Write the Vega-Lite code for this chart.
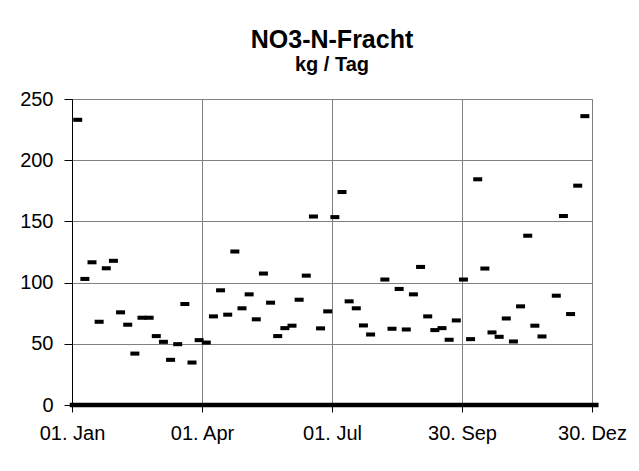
{
  "$schema": "https://vega.github.io/schema/vega-lite/v6.json",
  "width": 520,
  "height": 306,
  "autosize": {"type": "none"},
  "padding": {"left": 72, "top": 99, "right": 47, "bottom": 66},
  "background": "white",
  "title": {
    "text": "NO3-N-Fracht",
    "subtitle": "kg / Tag",
    "anchor": "middle",
    "frame": "group",
    "font": "Liberation Sans",
    "fontSize": 25,
    "fontWeight": "bold",
    "color": "black",
    "subtitleFont": "Liberation Sans",
    "subtitleFontSize": 20,
    "subtitleFontWeight": "bold",
    "subtitleColor": "black",
    "subtitlePadding": 2,
    "offset": 14
  },
  "config": {
    "view": {"stroke": "#808080", "strokeWidth": 1},
    "axis": {
      "labelFont": "Liberation Sans",
      "labelFontSize": 20,
      "labelColor": "black",
      "domainColor": "black",
      "domainWidth": 1,
      "tickColor": "black",
      "gridColor": "#808080",
      "gridWidth": 1,
      "title": null,
      "labelOverlap": false,
      "labelFlush": false
    }
  },
  "encoding": {
    "x": {
      "field": "Datum",
      "type": "temporal",
      "scale": {"domain": [{"year": 2000, "month": 1, "date": 1}, {"year": 2000, "month": 12, "date": 30}], "nice": false},
      "axis": {
        "values": [
          {"year": 2000, "month": 1, "date": 1},
          {"year": 2000, "month": 4, "date": 1},
          {"year": 2000, "month": 7, "date": 1},
          {"year": 2000, "month": 9, "date": 30},
          {"year": 2000, "month": 12, "date": 30}
        ],
        "labelExpr": "timeFormat(datum.value, '%d') + '. ' + ['Jan','Feb','Mär','Apr','Mai','Jun','Jul','Aug','Sep','Okt','Nov','Dez'][month(datum.value)]",
        "tickSize": 7,
        "labelPadding": 11,
        "grid": true
      }
    },
    "y": {
      "field": "Fracht",
      "type": "quantitative",
      "scale": {"domain": [0, 250], "nice": false, "zero": true},
      "axis": {"values": [0, 50, 100, 150, 200, 250], "tickSize": 8, "labelPadding": 11, "grid": true}
    }
  },
  "layer": [
    {
      "data": {"values": [{"Datum": "2000-01-01T00:00:00", "bis": "2001-01-02T00:00:00", "Fracht": 0}]},
      "mark": {"type": "rule", "color": "black", "strokeWidth": 4.5, "strokeCap": "square"},
      "encoding": {
        "x2": {"field": "bis"}
      }
    },
    {
      "data": {"values": [
        {"Datum": "2000-01-05T00:00:00", "Fracht": 233},
        {"Datum": "2000-01-10T00:00:00", "Fracht": 103},
        {"Datum": "2000-01-15T00:00:00", "Fracht": 116.6},
        {"Datum": "2000-01-20T00:00:00", "Fracht": 68},
        {"Datum": "2000-01-25T00:00:00", "Fracht": 111.7},
        {"Datum": "2000-01-30T00:00:00", "Fracht": 117.8},
        {"Datum": "2000-02-04T00:00:00", "Fracht": 75.7},
        {"Datum": "2000-02-09T00:00:00", "Fracht": 65.6},
        {"Datum": "2000-02-14T00:00:00", "Fracht": 42},
        {"Datum": "2000-02-19T00:00:00", "Fracht": 71.3},
        {"Datum": "2000-02-24T00:00:00", "Fracht": 71.3},
        {"Datum": "2000-02-29T00:00:00", "Fracht": 56.3},
        {"Datum": "2000-03-05T00:00:00", "Fracht": 51.6},
        {"Datum": "2000-03-10T00:00:00", "Fracht": 36.9},
        {"Datum": "2000-03-15T00:00:00", "Fracht": 49.7},
        {"Datum": "2000-03-20T00:00:00", "Fracht": 82.5},
        {"Datum": "2000-03-25T00:00:00", "Fracht": 34.7},
        {"Datum": "2000-03-30T00:00:00", "Fracht": 53},
        {"Datum": "2000-04-04T00:00:00", "Fracht": 51},
        {"Datum": "2000-04-09T00:00:00", "Fracht": 72.4},
        {"Datum": "2000-04-14T00:00:00", "Fracht": 93.7},
        {"Datum": "2000-04-19T00:00:00", "Fracht": 73.8},
        {"Datum": "2000-04-24T00:00:00", "Fracht": 125.4},
        {"Datum": "2000-04-29T00:00:00", "Fracht": 79},
        {"Datum": "2000-05-04T00:00:00", "Fracht": 90.4},
        {"Datum": "2000-05-09T00:00:00", "Fracht": 70},
        {"Datum": "2000-05-14T00:00:00", "Fracht": 107.4},
        {"Datum": "2000-05-19T00:00:00", "Fracht": 83.6},
        {"Datum": "2000-05-24T00:00:00", "Fracht": 56.3},
        {"Datum": "2000-05-29T00:00:00", "Fracht": 62.8},
        {"Datum": "2000-06-03T00:00:00", "Fracht": 64.8},
        {"Datum": "2000-06-08T00:00:00", "Fracht": 86},
        {"Datum": "2000-06-13T00:00:00", "Fracht": 105.7},
        {"Datum": "2000-06-18T00:00:00", "Fracht": 154},
        {"Datum": "2000-06-23T00:00:00", "Fracht": 62.6},
        {"Datum": "2000-06-28T00:00:00", "Fracht": 76.5},
        {"Datum": "2000-07-03T00:00:00", "Fracht": 153.5},
        {"Datum": "2000-07-08T00:00:00", "Fracht": 174},
        {"Datum": "2000-07-13T00:00:00", "Fracht": 84.7},
        {"Datum": "2000-07-18T00:00:00", "Fracht": 79},
        {"Datum": "2000-07-23T00:00:00", "Fracht": 65},
        {"Datum": "2000-07-28T00:00:00", "Fracht": 57.6},
        {"Datum": "2000-08-07T00:00:00", "Fracht": 102.5},
        {"Datum": "2000-08-12T00:00:00", "Fracht": 62.3},
        {"Datum": "2000-08-17T00:00:00", "Fracht": 94.8},
        {"Datum": "2000-08-22T00:00:00", "Fracht": 61.7},
        {"Datum": "2000-08-27T00:00:00", "Fracht": 90.4},
        {"Datum": "2000-09-01T00:00:00", "Fracht": 112.8},
        {"Datum": "2000-09-06T00:00:00", "Fracht": 72.4},
        {"Datum": "2000-09-11T00:00:00", "Fracht": 61.2},
        {"Datum": "2000-09-16T00:00:00", "Fracht": 62.8},
        {"Datum": "2000-09-21T00:00:00", "Fracht": 53.3},
        {"Datum": "2000-09-26T00:00:00", "Fracht": 69.1},
        {"Datum": "2000-10-01T00:00:00", "Fracht": 102.5},
        {"Datum": "2000-10-06T00:00:00", "Fracht": 53.8},
        {"Datum": "2000-10-11T00:00:00", "Fracht": 184.4},
        {"Datum": "2000-10-16T00:00:00", "Fracht": 111.5},
        {"Datum": "2000-10-21T00:00:00", "Fracht": 59.3},
        {"Datum": "2000-10-26T00:00:00", "Fracht": 55.7},
        {"Datum": "2000-10-31T00:00:00", "Fracht": 70.7},
        {"Datum": "2000-11-05T00:00:00", "Fracht": 51.9},
        {"Datum": "2000-11-10T00:00:00", "Fracht": 80.6},
        {"Datum": "2000-11-15T00:00:00", "Fracht": 138.3},
        {"Datum": "2000-11-20T00:00:00", "Fracht": 64.8},
        {"Datum": "2000-11-25T00:00:00", "Fracht": 56},
        {"Datum": "2000-12-05T00:00:00", "Fracht": 89.3},
        {"Datum": "2000-12-10T00:00:00", "Fracht": 154.4},
        {"Datum": "2000-12-15T00:00:00", "Fracht": 74.3},
        {"Datum": "2000-12-20T00:00:00", "Fracht": 179.2},
        {"Datum": "2000-12-25T00:00:00", "Fracht": 236}
      ]},
      "mark": {"type": "point", "shape": "M-1,-0.45L1,-0.45L1,0.45L-1,0.45Z", "size": 81, "filled": true, "color": "black", "opacity": 1, "strokeWidth": 0}
    }
  ]
}
